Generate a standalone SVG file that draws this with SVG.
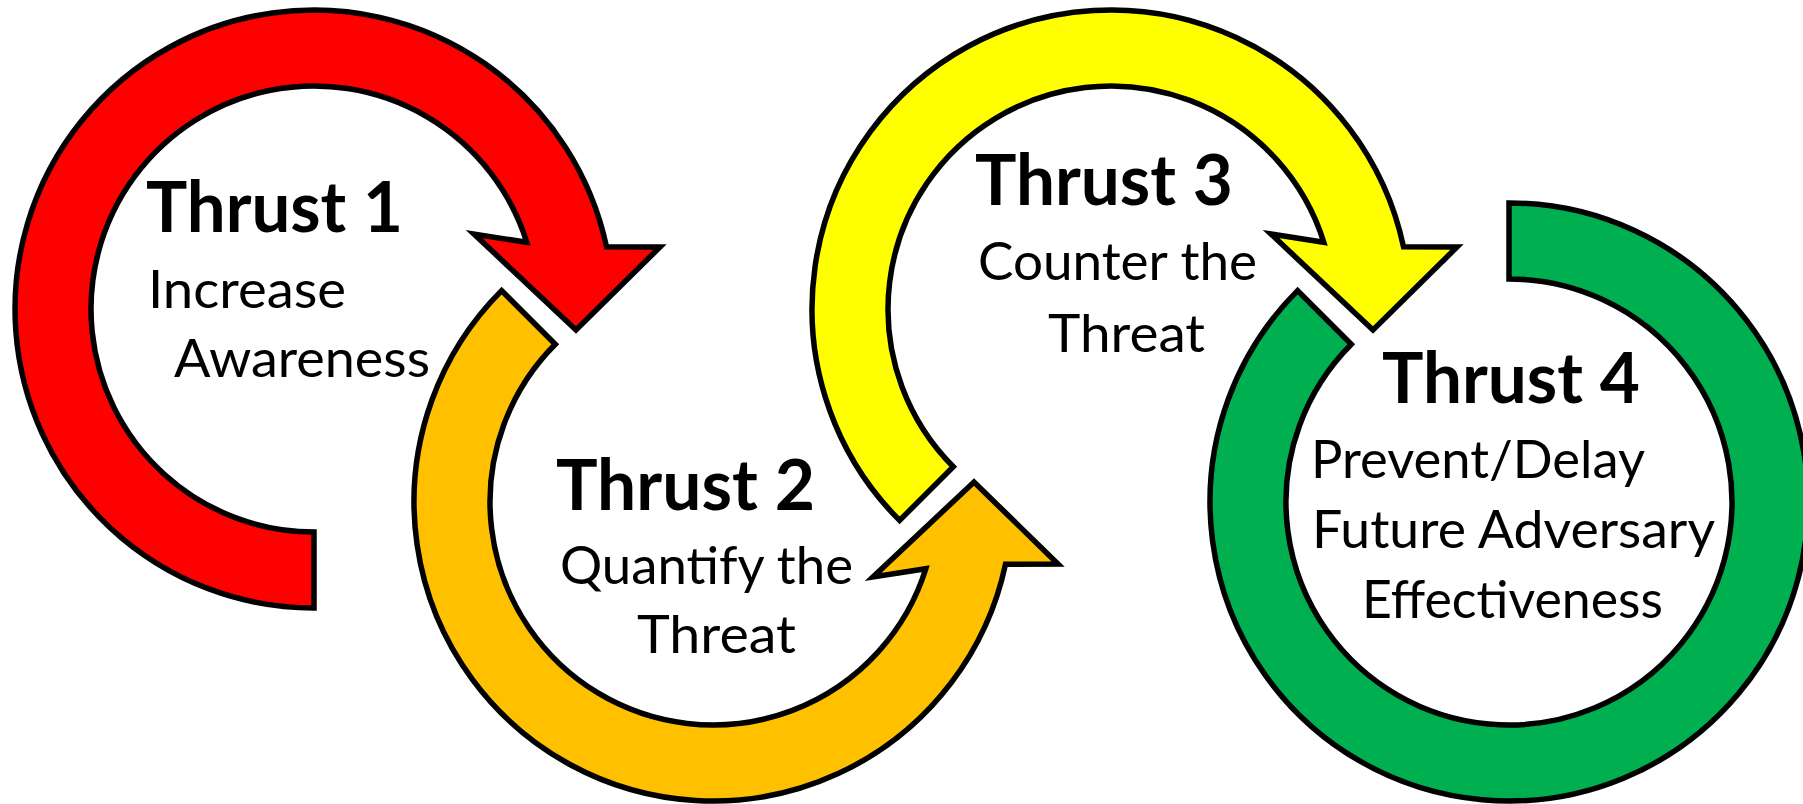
<svg xmlns="http://www.w3.org/2000/svg" width="1803" height="804" viewBox="0 0 1803 804">
<style>
.arc{stroke:#000;stroke-width:5.5;stroke-linejoin:miter}
.red{fill:#FF0000}
.org{fill:#FFC000}
.yel{fill:#FFFF00}
.grn{fill:#00B050}
.t{font-family:Lato,"Liberation Sans",sans-serif;fill:#000}
.h{font-size:70px;font-weight:700}
.s{font-size:53px;font-weight:400}
</style>
<rect width="1803" height="804" fill="#fff"/>
<g id="thrust1">
<path class="arc red" d="M 314,608 A 299 299 0 1 1 606.5,246.8 L 660,247 L 576,330 L 474,234 L 526.8,242.3 A 223 223 0 1 0 314,532 Z"/>
<text class="t h" x="146" y="232" textLength="257" lengthAdjust="spacingAndGlyphs">Thrust 1</text>
<text class="t s" x="148" y="308" textLength="198" lengthAdjust="spacingAndGlyphs">Increase</text>
<text class="t s" x="174" y="377" textLength="256" lengthAdjust="spacingAndGlyphs">Awareness</text>
</g>
<g id="thrust2">
<path class="arc org" d="M 501.6,290.6 A 299 299 0 1 0 1005.5,564.2 L 1058,564 L 974,482 L 873,577 L 925.8,568.7 A 223 223 0 1 1 555.3,344.3 Z"/>
<text class="t h" x="556" y="510" textLength="259" lengthAdjust="spacingAndGlyphs">Thrust 2</text>
<text class="t s" x="560" y="584" textLength="293" lengthAdjust="spacingAndGlyphs">Quantify the</text>
<text class="t s" x="637" y="653" textLength="159" lengthAdjust="spacingAndGlyphs">Threat</text>
</g>
<g id="thrust3">
<path class="arc yel" d="M 899.6,520.4 A 299 299 0 1 1 1403.5,246.8 L 1457,247 L 1373,330 L 1271,234 L 1323.8,242.3 A 223 223 0 1 0 953.3,466.7 Z"/>
<text class="t h" x="975" y="205" textLength="258" lengthAdjust="spacingAndGlyphs">Thrust 3</text>
<text class="t s" x="978" y="280" textLength="279" lengthAdjust="spacingAndGlyphs">Counter the</text>
<text class="t s" x="1048" y="352" textLength="157" lengthAdjust="spacingAndGlyphs">Threat</text>
</g>
<g id="thrust4">
<path class="arc grn" d="M 1297.6,290.6 A 299 299 0 1 0 1509,203 L 1509,279 A 223 223 0 1 1 1351.3,344.3 Z"/>
<text class="t h" x="1382" y="403" textLength="258" lengthAdjust="spacingAndGlyphs">Thrust 4</text>
<text class="t s" x="1311" y="478" textLength="334" lengthAdjust="spacingAndGlyphs">Prevent/Delay</text>
<text class="t s" x="1312" y="548" textLength="403" lengthAdjust="spacingAndGlyphs">Future Adversary</text>
<text class="t s" x="1362" y="618" textLength="301" lengthAdjust="spacingAndGlyphs">Effectiveness</text>
</g>
<g id="connectors"></g>
</svg>
